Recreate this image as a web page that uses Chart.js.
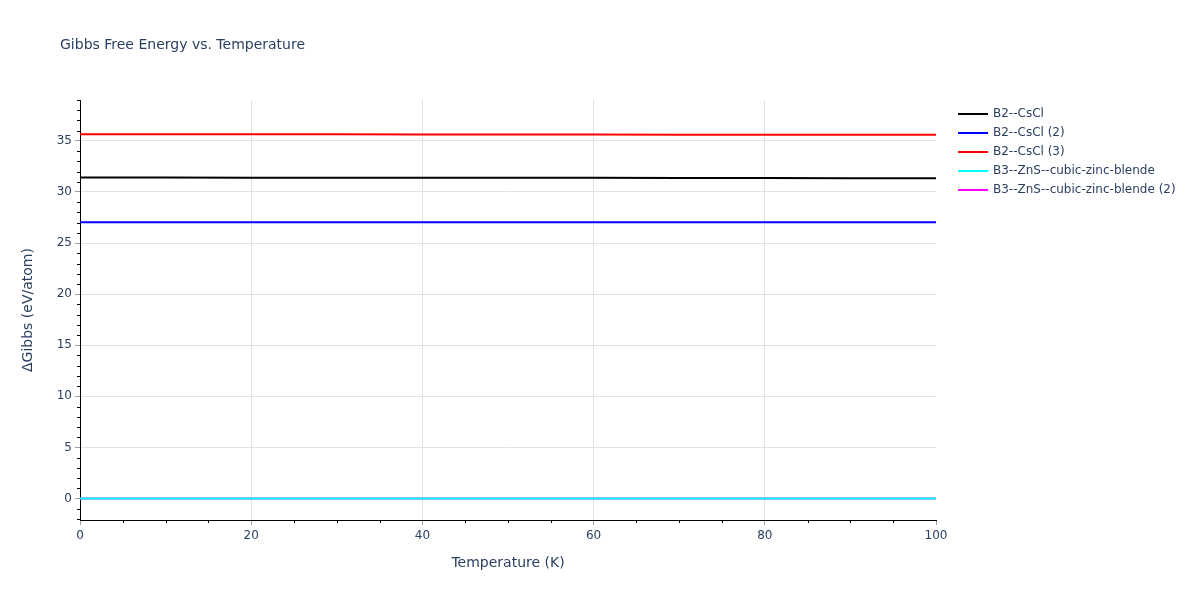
<!DOCTYPE html>
<html lang="en">
  <head>
    <meta charset="UTF-8" />
    <title>Gibbs Free Energy vs. Temperature</title>
    <style>
      html, body { margin: 0; padding: 0; background: #fff; }
      #wrap { width: 1200px; height: 600px; }
    </style>
  </head>
  <body>
    <div id="wrap">
      <canvas id="myChart"></canvas>
    </div>
    <script src="https://cdn.jsdelivr.net/npm/chart.js"></script>
    <script>
        const temperatures = [0, 10, 20, 30, 40, 50, 60, 70, 80, 90, 100];
        const seriesNames = ["B2--CsCl", "B2--CsCl (2)", "B2--CsCl (3)", "B3--ZnS--cubic-zinc-blende", "B3--ZnS--cubic-zinc-blende (2)"];
        const b2CsCl = [31.41, 31.41, 31.40, 31.40, 31.39, 31.39, 31.38, 31.37, 31.36, 31.35, 31.34];
        const b2CsCl2 = [27.04, 27.04, 27.04, 27.04, 27.04, 27.04, 27.04, 27.04, 27.04, 27.04, 27.04];
        const b2CsCl3 = [35.66, 35.65, 35.65, 35.64, 35.63, 35.63, 35.62, 35.61, 35.61, 35.60, 35.59];
        const b3ZnS = [0, 0, 0, 0, 0, 0, 0, 0, 0, 0, 0];
        const b3ZnS2 = [0, 0, 0, 0, 0, 0, 0, 0, 0, 0, 0];
        const lineColors = ["#000000", "#0000ff", "#ff0000", "#00ffff", "#ff00ff"];

        const FONT = "'DejaVu Sans', Verdana, sans-serif";
        const TEXT = "#2a3f5f";

        const toPoints = (vals) => vals.map((v, i) => ({ x: temperatures[i], y: v }));
        const allSeries = [b2CsCl, b2CsCl2, b2CsCl3, b3ZnS, b3ZnS2];

        // titles, minor ticks and a plotly-style legend
        const decorations = {
            id: 'decorations',
            afterDraw(chart) {
                const { ctx, chartArea: { left, right, top, bottom } } = chart;
                const xs = chart.scales.x, ys = chart.scales.y;
                ctx.save();
                // minor ticks
                ctx.strokeStyle = '#000';
                ctx.lineWidth = 1;
                for (let v = -2; v <= 39; v++) {
                    if (v % 5 === 0) continue;
                    const py = Math.round(ys.getPixelForValue(v)) + 0.5;
                    ctx.beginPath(); ctx.moveTo(left - 3, py); ctx.lineTo(left, py); ctx.stroke();
                }
                for (let v = 5; v < 100; v += 5) {
                    if (v % 20 === 0) continue;
                    const px = Math.round(xs.getPixelForValue(v)) + 0.5;
                    ctx.beginPath(); ctx.moveTo(px, bottom); ctx.lineTo(px, bottom + 3); ctx.stroke();
                }
                // chart title
                ctx.fillStyle = TEXT;
                ctx.font = "14px " + FONT;
                ctx.textAlign = 'left';
                ctx.textBaseline = 'middle';
                ctx.fillText("Gibbs Free Energy vs. Temperature", 60, 45);
                // axis titles
                ctx.textAlign = 'center';
                ctx.fillText("Temperature (K)", (left + right) / 2, 563);
                ctx.save();
                ctx.translate(28, (top + bottom) / 2);
                ctx.rotate(-Math.PI / 2);
                ctx.fillText("\u0394Gibbs (eV/atom)", 0, 0);
                ctx.restore();
                // legend
                ctx.font = "12px " + FONT;
                ctx.textAlign = 'left';
                chart.data.datasets.forEach((ds, i) => {
                    const ly = 114 + i * 19;
                    ctx.strokeStyle = ds.borderColor;
                    ctx.lineWidth = 2;
                    ctx.beginPath(); ctx.moveTo(958, ly); ctx.lineTo(988, ly); ctx.stroke();
                    ctx.fillStyle = TEXT;
                    ctx.fillText(ds.label, 993, ly);
                });
                ctx.restore();
            }
        };

        const data = {
            datasets: allSeries.map((vals, i) => ({
                label: seriesNames[i],
                data: toPoints(vals),
                borderColor: lineColors[i],
                backgroundColor: lineColors[i],
                borderWidth: 2,
                pointRadius: 0,
                tension: 0,
                fill: false,
            })),
        };

        const config = {
            type: "line",
            data: data,
            plugins: [decorations],
            options: {
                responsive: false,
                animation: false,
                layout: { padding: { left: 0, right: 264, top: 100, bottom: 0 } },
                plugins: {
                    legend: { display: false },
                    tooltip: { enabled: false },
                },
                scales: {
                    x: {
                        type: 'linear',
                        min: 0,
                        max: 100,
                        afterFit(scale) { scale.height = 80; },
                        border: { color: '#000', width: 1 },
                        grid: {
                            color: (c) => (c.tick && (c.tick.value === 0 || c.tick.value === 100)) ? 'rgba(0,0,0,0)' : '#e1e1e1',
                            tickColor: '#a0a0a0',
                            tickLength: 5,
                        },
                        ticks: {
                            stepSize: 20,
                            color: TEXT,
                            padding: 4,
                            maxRotation: 0,
                            font: { family: FONT, size: 12 },
                        },
                    },
                    y: {
                        type: 'linear',
                        min: -2.1,
                        max: 39,
                        afterFit(scale) { scale.width = 80; },
                        border: { color: '#000', width: 1 },
                        grid: {
                            color: '#e1e1e1',
                            tickColor: '#a0a0a0',
                            tickLength: 5,
                        },
                        ticks: {
                            stepSize: 5,
                            includeBounds: false,
                            color: TEXT,
                            padding: 3,
                            font: { family: FONT, size: 12 },
                        },
                    },
                },
            },
        };

        const canvas = document.getElementById("myChart");
        canvas.width = 1200;
        canvas.height = 600;
        const myChart = new Chart(canvas, config);
    </script>
  </body>
</html>
